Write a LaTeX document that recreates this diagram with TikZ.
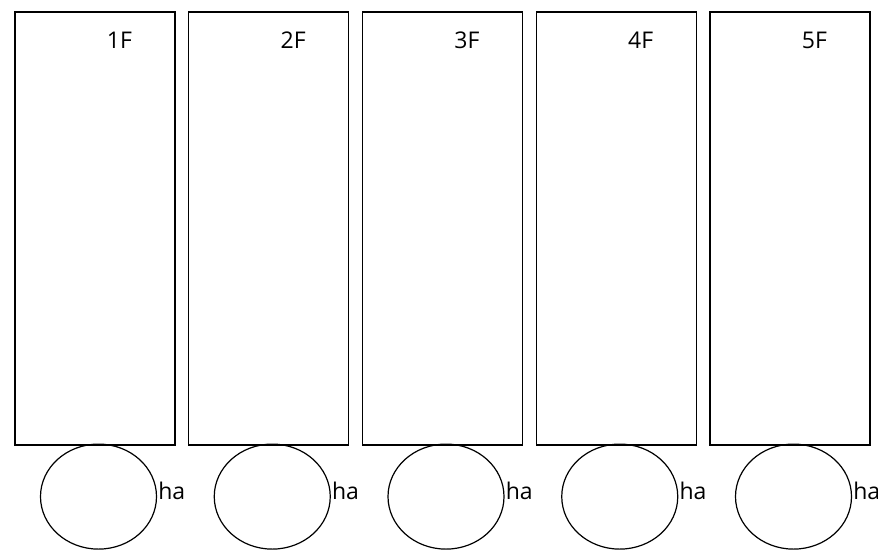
\documentclass[tikz,border=0pt]{standalone}
\usepackage{fontspec}
\setmainfont{Open Sans}
\usetikzlibrary{calc, positioning, shapes.geometric}

\begin{document}
\begin{tikzpicture}[x=1pt,y=-1pt,
floor/.style={rectangle,draw,line width=1.2pt,minimum width=160pt,minimum height=433pt,inner sep=0pt},
pit/.style={ellipse,draw,line width=1.2pt,minimum width=116pt,minimum height=105pt,inner sep=0pt},
lbl/.style={font=\fontsize{23}{26}\selectfont,inner sep=0pt}]
 \useasboundingbox (0,0) rectangle (878,549);

 \foreach \X in {1,...,5} {

 \node[floor] (fl\X) at ({95+173.75*(\X-1)},228.5) {};

 \node[lbl] (fn\X) at ($(fl\X.north west)+(105,29)$) {\X F};

 \node[pit] (el\X) at ($(fl\X.south)+(3.5,51)$) {};

 \node[lbl,anchor=base west] (ha\X) at ($(el\X.east)+(1,3)$) {ha};

 }

\end{tikzpicture}
\end{document}
